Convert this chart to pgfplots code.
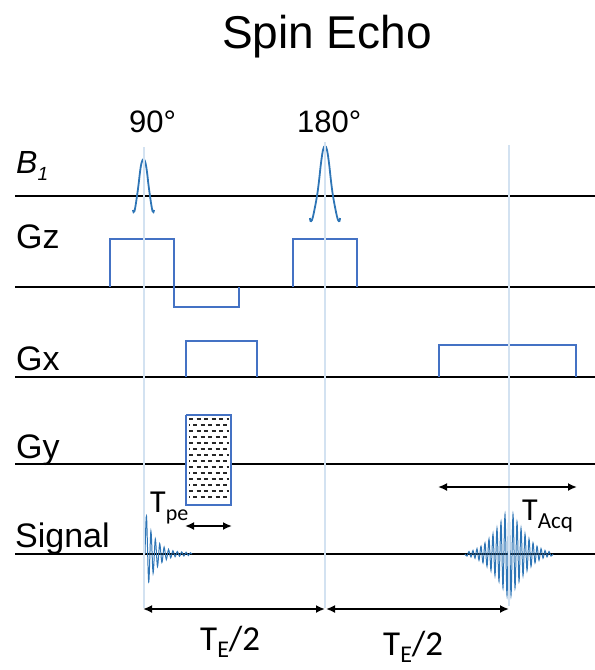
\documentclass[border=0pt]{standalone}
\usepackage{pgfplots}
\pgfplotsset{compat=1.18}
\usepackage{fontspec}
\setmainfont{Liberation Sans}
\newfontfamily\calfont{Carlito}
\usetikzlibrary{arrows.meta}
\definecolor{gradblue}{HTML}{4472C4}
\definecolor{rfblue}{HTML}{2E75B6}
\definecolor{guide}{HTML}{D3E2F1}
\newcommand{\fs}[1]{\fontsize{#1bp}{#1bp}\selectfont}
\begin{document}
\begin{tikzpicture}
\useasboundingbox (0,0) rectangle (595bp,670bp);
\begin{axis}[at={(0,0)},anchor=south west, hide axis, scale only axis,
  width=595bp, height=670bp, xmin=0,xmax=595,ymin=0,ymax=670,
  y dir=reverse, clip=false]
% baselines
\addplot[black, line width=2.5bp] coordinates {(15,196) (595,196)};
\addplot[black, line width=2.5bp] coordinates {(15,287) (595,287)};
\addplot[black, line width=2.5bp] coordinates {(15,377) (595,377)};
\addplot[black, line width=2.5bp] coordinates {(15,464) (595,464)};
\addplot[black, line width=2.5bp] coordinates {(15,554) (595,554)};
% Gz
\addplot[gradblue, line width=2bp] coordinates {(110,287) (110,239) (174,239) (174,307) (239,307) (239,287)};
\addplot[gradblue, line width=2bp] coordinates {(293,287) (293,239) (357,239) (357,287)};
% Gx
\addplot[gradblue, line width=2bp] coordinates {(186,377) (186,341) (257,341) (257,377)};
\addplot[gradblue, line width=2bp] coordinates {(439,377) (439,345) (576,345) (576,377)};
% Gy box
\addplot[gradblue, line width=1.5bp, fill=white] coordinates {(186,415) (231,415) (231,505) (186,505) (186,415)};
\addplot[black!85, line width=1.1bp, dash pattern=on 4bp off 3.5bp] coordinates {(189,419) (229,419)};
\addplot[black!85, line width=1.1bp, dash pattern=on 4bp off 3.5bp, dash phase=3.5bp] coordinates {(189,425) (229,425)};
\addplot[black!85, line width=1.1bp, dash pattern=on 4bp off 3.5bp] coordinates {(189,431) (229,431)};
\addplot[black!85, line width=1.1bp, dash pattern=on 4bp off 3.5bp, dash phase=3.5bp] coordinates {(189,437) (229,437)};
\addplot[black!85, line width=1.1bp, dash pattern=on 4bp off 3.5bp] coordinates {(189,443) (229,443)};
\addplot[black!85, line width=1.1bp, dash pattern=on 4bp off 3.5bp, dash phase=3.5bp] coordinates {(189,449) (229,449)};
\addplot[black!85, line width=1.1bp, dash pattern=on 4bp off 3.5bp] coordinates {(189,455) (229,455)};
\addplot[black!85, line width=1.1bp, dash pattern=on 4bp off 3.5bp, dash phase=3.5bp] coordinates {(189,461) (229,461)};
\addplot[black!85, line width=1.1bp, dash pattern=on 4bp off 3.5bp] coordinates {(189,467) (229,467)};
\addplot[black!85, line width=1.1bp, dash pattern=on 4bp off 3.5bp, dash phase=3.5bp] coordinates {(189,473) (229,473)};
\addplot[black!85, line width=1.1bp, dash pattern=on 4bp off 3.5bp] coordinates {(189,479) (229,479)};
\addplot[black!85, line width=1.1bp, dash pattern=on 4bp off 3.5bp, dash phase=3.5bp] coordinates {(189,485) (229,485)};
\addplot[black!85, line width=1.1bp, dash pattern=on 4bp off 3.5bp] coordinates {(189,491) (229,491)};
\addplot[black!85, line width=1.1bp, dash pattern=on 4bp off 3.5bp, dash phase=3.5bp] coordinates {(189,497) (229,497)};
% RF pulses
\addplot[rfblue, line width=1.8bp, smooth, tension=0.6] coordinates {
(133,210) (133.5,212) (134.5,211) (135.5,206) (137,196) (138.5,185) (140,172) (141.5,163) (143.5,159)
(145.5,163) (147,172) (148.5,185) (150,196) (151.5,206) (152.5,211) (153.5,212) (154,210)};
\addplot[rfblue, line width=1.8bp, smooth, tension=0.6] coordinates {
(310,218) (310.5,221) (312,220) (314,212) (317,196) (319,181) (321,163) (323,150) (325,146)
(327,150) (329,163) (331,181) (333,196) (336,212) (338,220) (339.5,221) (340,218)};
% FID
\addplot[rfblue, line width=1bp, smooth, tension=0.5] coordinates {
(145,554) (146.5,516) (148.7,582) (150.9,531) (153.1,573) (155.3,539) (157.5,566.5) (159.7,543.7)
(161.9,562.4) (164.1,547.1) (166.3,559.6) (168.5,549.4) (170.7,557.8) (172.9,550.7) (175.1,556.7)
(177.3,551.5) (179.5,556.3) (181.7,551.9) (183.9,556) (186.1,552.2) (188.3,555.5) (190.5,552.8) (192,554)};
% Echo
\addplot[rfblue, line width=1bp, smooth, tension=0.5] coordinates {
(465,554) (467,556.1) (469,551.5) (471,556.9) (473,550.4) (475,558.2) (477,548.6) (479,560.2)
(481,546.2) (483,562.9) (485,542.9) (487,566.4) (489,538.9) (491,570.5) (493,534) (495,575.6)
(497,528.3) (499,581.4) (501,521.8) (503,588) (505,514.3) (507,595.5) (509,507) (511,595.5)
(513,514.3) (515,588) (517,521.8) (519,581.4) (521,528.3) (523,575.6) (525,534) (527,570.5)
(529,538.9) (531,566.4) (533,542.9) (535,562.9) (537,546.2) (539,560.2) (541,548.6) (543,558.2)
(545,550.4) (547,556.9) (549,551.5) (551,556.1) (553,554)};
% guide lines
\addplot[guide, line width=2bp] coordinates {(143.5,147) (143.5,608)};
\addplot[guide, line width=2bp] coordinates {(325,142) (325,608)};
\addplot[guide, line width=2bp] coordinates {(509,145) (509,606)};
% arrows
\addplot[black, line width=1.8bp, arrows={Latex[length=9bp,width=8bp]-Latex[length=9bp,width=8bp]}] coordinates {(185,526) (232,526)};
\addplot[black, line width=1.8bp, arrows={Latex[length=9bp,width=8bp]-Latex[length=9bp,width=8bp]}] coordinates {(438,487) (577,487)};
\addplot[black, line width=1.8bp, arrows={Latex[length=9bp,width=8bp]-Latex[length=9bp,width=8bp]}] coordinates {(143,609) (325,609)};
\addplot[black, line width=1.8bp, arrows={Latex[length=9bp,width=8bp]-Latex[length=9bp,width=8bp]}] coordinates {(326,609) (509,609)};
% texts
\node[anchor=base, font=\fs{46}, inner sep=0pt] at (axis cs:327,48) {Spin Echo};
\node[anchor=base west, font=\fs{31}, inner sep=0pt] at (axis cs:129,132) {90°};
\node[anchor=base west, font=\fs{31}, inner sep=0pt] at (axis cs:297,132) {180°};
\node[anchor=base west, font=\fs{32}\itshape, inner sep=0pt] at (axis cs:16,173) {B\raisebox{-7bp}{\fs{19}1}};
\node[anchor=base west, font=\fs{34}, inner sep=0pt] at (axis cs:16,248) {Gz};
\node[anchor=base west, font=\fs{34}, inner sep=0pt] at (axis cs:16,370) {Gx};
\node[anchor=base west, font=\fs{34}, inner sep=0pt] at (axis cs:16,458) {Gy};
\node[anchor=base west, font=\fs{34}, inner sep=0pt] at (axis cs:15,547) {Signal};
\node[anchor=base west, font=\calfont\fs{32}, inner sep=0pt] at (axis cs:150,512) {T\raisebox{-8bp}{\fs{22}pe}};
\node[anchor=base west, font=\calfont\fs{32}, inner sep=0pt] at (axis cs:522,520) {T\raisebox{-8bp}{\fs{23}Acq}};
\node[anchor=base west, font=\calfont\fs{35}, inner sep=0pt] at (axis cs:200,650) {T\raisebox{-7bp}{\fs{24}E}/2};
\node[anchor=base west, font=\calfont\fs{35}, inner sep=0pt] at (axis cs:383,655) {T\raisebox{-7bp}{\fs{24}E}/2};
\end{axis}
\end{tikzpicture}
\end{document}
